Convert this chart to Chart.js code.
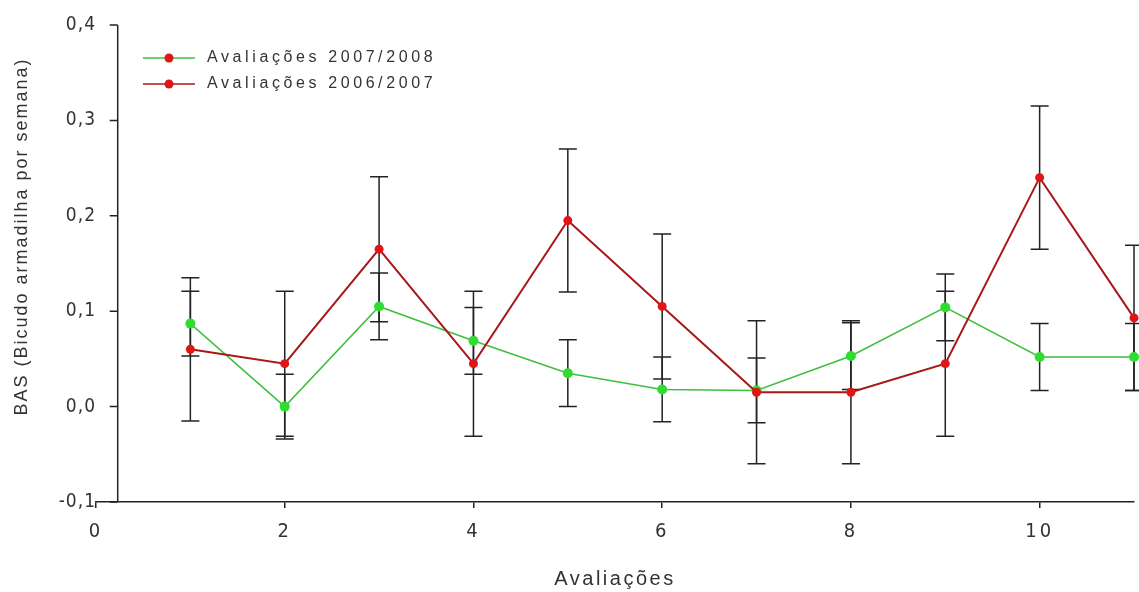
<!DOCTYPE html>
<html>
<head>
<meta charset="utf-8">
<script src="https://cdn.jsdelivr.net/npm/chart.js@4"></script>
<style>
  html, body { margin: 0; padding: 0; background: #fff; }
  #wrap { width: 1139px; height: 592px; }
</style>
</head>
<body>
<div id="wrap"><canvas id="chart"></canvas></div>
<script>
// values
const avaliacoes = [1, 2, 3, 4, 5, 6, 7, 8, 9, 10, 11];
const bas2007 = [0.087, 0.0, 0.105, 0.069, 0.035, 0.018, 0.017, 0.053, 0.104, 0.052, 0.052];
const err2007 = [0.034, 0.034, 0.035, 0.035, 0.035, 0.034, 0.034, 0.035, 0.035, 0.035, 0.035];
const bas2006 = [0.060, 0.045, 0.165, 0.045, 0.195, 0.105, 0.015, 0.015, 0.045, 0.240, 0.093];
const err2006 = [0.075, 0.076, 0.076, 0.076, 0.075, 0.076, 0.075, 0.075, 0.076, 0.075, 0.076];
const xTicks = [0, 2, 4, 6, 8, 10];
const yTicks = [-0.1, 0.0, 0.1, 0.2, 0.3, 0.4];

const AXIS = '#222';
const TEXT = '#333';
const GREEN_LINE = '#3fbf3f';
const GREEN_DOT = '#2fdc2f';
const RED_LINE = '#a81818';
const RED_DOT = '#e01515';
const Y_AXIS_AT = 0.23;   // the y axis sits a bit right of x = 0

function legendMark(lineColor) {
  const c = document.createElement('canvas');
  c.width = 56; c.height = 12;
  const g = c.getContext('2d');
  g.strokeStyle = lineColor; g.lineWidth = 1.5;
  g.beginPath(); g.moveTo(0, 6); g.lineTo(52, 6); g.stroke();
  g.fillStyle = RED_DOT;
  g.beginPath(); g.arc(26, 6, 4.5, 0, Math.PI * 2); g.fill();
  return c;
}

function withSpacing(target, name, sp, dy) {
  if (!target || target['_sp_' + name]) return;
  const orig = target[name];
  target[name] = function (...args) {
    const ctx = this.ctx;
    ctx.save();
    ctx.letterSpacing = sp;
    if (dy) ctx.translate(0, dy);
    orig.apply(this, args);
    ctx.restore();
  };
  target['_sp_' + name] = true;
}

const textSpacing = {
  id: 'textSpacing',
  afterLayout(chart) {
    const lg = chart.legend, ca = chart.chartArea;
    if (!lg) return;
    lg.left = ca.left + 37;
    lg.top = ca.top + 15;
    lg.right = ca.right;
    lg.bottom = ca.bottom;
  },
  beforeDraw(chart) {
    const {x, y} = chart.scales;
    withSpacing(x, 'drawLabels', '3px');
    withSpacing(x, 'drawTitle', '2.5px');
    withSpacing(y, 'drawLabels', '1px');
    withSpacing(y, 'drawTitle', '2px', -27);
    withSpacing(chart.legend, 'draw', '3.6px');
  }
};

const yAxisLine = {
  id: 'yAxisLine',
  beforeDatasetsDraw(chart) {
    const {ctx, scales: {x, y}} = chart;
    const px = x.getPixelForValue(Y_AXIS_AT);
    ctx.save();
    ctx.strokeStyle = AXIS;
    ctx.lineWidth = 1.5;
    ctx.beginPath();
    ctx.moveTo(px, y.top);
    ctx.lineTo(px, y.bottom);
    y.ticks.forEach(t => {
      const py = y.getPixelForValue(t.value);
      ctx.moveTo(px - 8, py);
      ctx.lineTo(px, py);
    });
    ctx.stroke();
    ctx.restore();
  }
};

const errorBars = {
  id: 'errorBars',
  beforeDatasetsDraw(chart) {
    const {ctx, scales: {y}} = chart;
    ctx.save();
    ctx.strokeStyle = AXIS;
    ctx.lineWidth = 1.5;
    chart.data.datasets.forEach((ds, i) => {
      const meta = chart.getDatasetMeta(i);
      meta.data.forEach((pt, j) => {
        const v = ds.data[j].y, e = ds.errors[j];
        const top = y.getPixelForValue(v + e);
        const bot = y.getPixelForValue(v - e);
        ctx.beginPath();
        ctx.moveTo(pt.x, top); ctx.lineTo(pt.x, bot);
        ctx.moveTo(pt.x - 9, top); ctx.lineTo(pt.x + 9, top);
        ctx.moveTo(pt.x - 9, bot); ctx.lineTo(pt.x + 9, bot);
        ctx.stroke();
      });
    });
    ctx.restore();
  }
};

const ctx = document.getElementById('chart');
new Chart(ctx, {
  type: 'line',
  data: {
    datasets: [
      {
        label: 'Avaliações 2007/2008',
        data: avaliacoes.map((a, i) => ({x: a, y: bas2007[i]})),
        errors: err2007,
        borderColor: GREEN_LINE,
        borderWidth: 1.5,
        pointBackgroundColor: GREEN_DOT,
        pointBorderColor: GREEN_DOT,
        pointRadius: 5,
        pointBorderWidth: 0,
        legendLine: GREEN_LINE,
        order: 1,
        clip: false,
      },
      {
        label: 'Avaliações 2006/2007',
        data: avaliacoes.map((a, i) => ({x: a, y: bas2006[i]})),
        errors: err2006,
        borderColor: RED_LINE,
        borderWidth: 2,
        pointBackgroundColor: RED_DOT,
        pointBorderColor: RED_DOT,
        pointRadius: 4.5,
        pointBorderWidth: 0,
        legendLine: RED_LINE,
        order: 0,
        clip: false,
      },
    ],
  },
  plugins: [textSpacing, yAxisLine, errorBars],
  options: {
    responsive: true,
    maintainAspectRatio: false,
    animation: false,
    layout: {
      padding: {top: 25, right: 1, bottom: 0, left: 0}
    },
    plugins: {
      tooltip: {enabled: false},
      legend: {
        position: 'chartArea',
        align: 'start',
        labels: {
          usePointStyle: true,
          pointStyleWidth: 56,
          padding: 10,
          color: TEXT,
          font: {family: '"Liberation Sans", Arial, sans-serif', size: 16},
          generateLabels(chart) {
            return chart.data.datasets.map((ds, i) => ({
              text: ds.label,
              fillStyle: RED_DOT,
              strokeStyle: ds.legendLine,
              lineWidth: 0,
              pointStyle: legendMark(ds.legendLine),
              hidden: false,
              datasetIndex: i,
              fontColor: TEXT,
            }));
          }
        }
      }
    },
    scales: {
      x: {
        type: 'linear',
        min: 0,
        max: 11,
        afterBuildTicks(scale) { scale.ticks = xTicks.map(v => ({value: v})); },
        afterFit(scale) { scale.height = 90; },
        border: {display: true, color: AXIS, width: 1.5},
        grid: {display: true, drawOnChartArea: false, drawTicks: true, tickLength: 6, color: AXIS, lineWidth: 1.5},
        ticks: {
          color: TEXT,
          padding: 12,
          maxRotation: 0,
          font: {family: '"Liberation Sans Narrow", "DejaVu Sans Condensed", Arial, sans-serif', size: 20},
        },
        title: {
          display: true,
          text: 'Avaliações',
          color: TEXT,
          padding: {top: 0, bottom: 1},
          font: {family: '"Liberation Sans", Arial, sans-serif', size: 20},
        }
      },
      y: {
        min: -0.1,
        max: 0.4,
        afterBuildTicks(scale) { scale.ticks = yTicks.map(v => ({value: v})); },
        afterFit(scale) { scale.width = 96; },
        border: {display: false},
        grid: {display: false},
        ticks: {
          color: TEXT,
          padding: -8,
          font: {family: '"Liberation Sans Narrow", "DejaVu Sans Condensed", Arial, sans-serif', size: 19},
          callback: v => v.toFixed(1).replace('.', ','),
        },
        title: {
          display: true,
          text: 'BAS (Bicudo armadilha por semana)',
          color: TEXT,
          padding: {top: 11, bottom: 0},
          font: {family: '"Liberation Sans", Arial, sans-serif', size: 18},
        }
      }
    }
  }
});
</script>
</body>
</html>
